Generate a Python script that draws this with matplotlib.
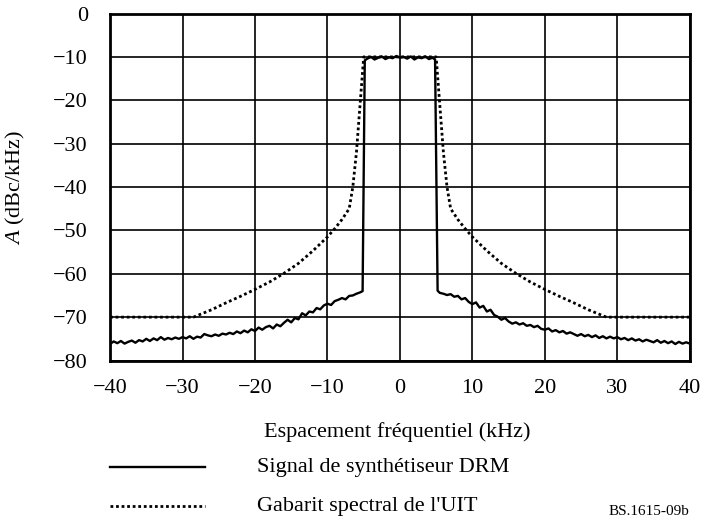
import matplotlib
matplotlib.use('Agg')
import matplotlib.pyplot as plt
from matplotlib.lines import Line2D
import numpy as np

plt.rcParams['font.family'] = ['Liberation Serif', 'DejaVu Serif']
plt.rcParams['mathtext.fontset'] = 'custom'
plt.rcParams['mathtext.it'] = 'Liberation Serif:italic'
plt.rcParams['mathtext.rm'] = 'Liberation Serif'

# DRM synthesiser signal (dBc/kHz)
f_left = np.linspace(-40, -5.5, 70)
a_left = [-76.2, -75.6, -76.0, -75.5, -76.1, -75.7, -75.4, -75.9, -75.3, -75.6,
          -75.0, -75.5, -74.9, -75.3, -74.6, -75.2, -74.8, -75.1, -74.7, -75.0,
          -74.6, -74.9, -74.4, -75.0, -74.5, -74.7, -73.9, -74.2, -74.4, -74.0,
          -74.3, -73.8, -74.0, -73.6, -73.9, -73.3, -73.7, -73.1, -73.5, -72.8,
          -73.2, -72.4, -72.9, -72.3, -72.0, -72.6, -71.7, -72.1, -71.3, -70.6,
          -71.2, -70.2, -70.5, -69.1, -69.6, -68.7, -68.9, -67.9, -68.2, -67.3,
          -66.9, -67.2, -66.3, -66.0, -65.6, -65.9, -65.1, -65.0, -64.6, -64.3]
f_edge_l = [-5.15, -4.85]
a_edge_l = [-64.0, -10.8]
f_top = np.linspace(-4.5, 4.5, 19)
a_top = [-10.4, -10.0, -10.6, -10.2, -9.9, -10.5, -10.1, -10.3, -9.8, -10.2,
         -10.0, -10.4, -9.9, -10.6, -10.1, -10.3, -9.9, -10.5, -10.2]
f_edge_r = [4.85, 5.2]
a_edge_r = [-10.6, -63.9]
f_right = np.linspace(5.5, 40, 70)
a_right = [-64.4, -64.6, -64.9, -64.7, -65.3, -65.1, -65.9, -65.6, -66.5, -67.0,
           -66.6, -67.8, -67.4, -68.7, -68.3, -69.5, -69.9, -70.6, -70.2, -71.0,
           -71.5, -71.2, -71.7, -71.4, -72.0, -71.8, -72.3, -72.0, -72.7, -72.9,
           -72.6, -73.3, -73.0, -73.5, -73.2, -73.8, -73.5, -73.9, -74.3, -73.9,
           -74.4, -74.1, -74.6, -74.2, -74.8, -74.4, -74.9, -74.5, -74.9, -74.6,
           -75.1, -74.8, -75.3, -74.9, -75.4, -75.1, -75.6, -75.2, -75.5, -75.8,
           -75.3, -75.9, -75.5, -76.0, -75.6, -76.2, -75.7, -76.1, -75.8, -76.1]

# ITU spectral mask
f_mask = [-40, -28.5, -26, -24, -22, -20, -18, -16, -14, -12, -10, -9, -8, -7,
          -6.5, -6, -5.5, -5, 5, 5.5, 6, 6.5, 7, 8, 9, 10, 12, 14, 16, 18, 20,
          22, 24, 26, 28.5, 40]
a_mask = [-70, -70, -68.3, -66.7, -65.2, -63.6, -61.9, -59.9, -57.6, -54.7,
          -51.5, -49.6, -47.5, -45, -40, -32, -21, -10, -10, -21, -32, -40,
          -45, -47.5, -49.6, -51.5, -54.7, -57.6, -59.9, -61.9, -63.6, -65.2,
          -66.7, -68.3, -70, -70]

xticks = [-40, -30, -20, -10, 0, 10, 20, 30, 40]
yticks = [0, -10, -20, -30, -40, -50, -60, -70, -80]

f_sig = np.concatenate([f_left, f_edge_l, f_top, f_edge_r, f_right])
a_sig = np.concatenate([a_left, a_edge_l, a_top, a_edge_r, a_right])

fig = plt.figure(figsize=(7.01, 5.26), dpi=100)
ax = fig.add_axes([0.157, 0.3146, 0.827, 0.6597])

ax.plot(f_mask, a_mask, color='black', lw=2.0, linestyle=(0, (1, 1.0)))
ax.plot(f_sig, a_sig, color='black', lw=1.7)

ax.set_xlim(-40, 40)
ax.set_ylim(-80, 0)
ax.set_xticks(xticks)
ax.set_yticks(yticks)
ax.set_xticklabels([str(t).replace('-', '\u2212') for t in xticks])
ax.set_yticklabels([str(t).replace('-', '\u2212') for t in yticks])
ax.tick_params(length=0, labelsize=16)
ax.tick_params(axis='x', pad=13)
ax.tick_params(axis='y', pad=16)
ax.grid(True, color='black', lw=1.2)
ax.set_axisbelow(True)
for s in ax.spines.values():
    s.set_linewidth(2)

fig.text(0.566, 0.179, 'Espacement fréquentiel (kHz)', ha='center', va='center', fontsize=16)
fig.text(0.022, 0.644, '$A$ (dBc/kHz)', rotation=90, ha='center', va='center', fontsize=16)

# legend drawn below the axes
fig.add_artist(Line2D([0.157, 0.293], [0.112, 0.112], color='black', lw=1.7))
fig.add_artist(Line2D([0.157, 0.293], [0.038, 0.038], color='black', lw=2.0,
                      linestyle=(0, (1, 1.0))))
fig.text(0.366, 0.112, 'Signal de synthétiseur DRM', ha='left', va='center', fontsize=16)
fig.text(0.366, 0.038, "Gabarit spectral de l'UIT", ha='left', va='center', fontsize=16)
fig.text(0.984, 0.028, 'BS.1615-09b', ha='right', va='center', fontsize=11)

fig.savefig('out.png', dpi=100)
